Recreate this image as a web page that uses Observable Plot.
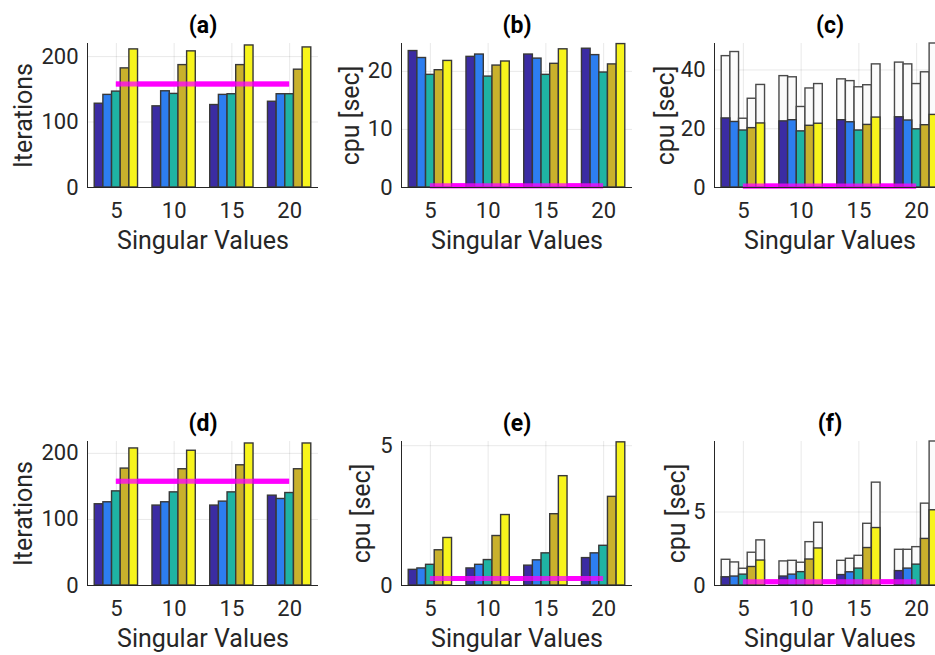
<!DOCTYPE html>
<html>
<head>
<meta charset="utf-8">
<script src="https://cdn.jsdelivr.net/npm/d3@7"></script>
<script src="https://cdn.jsdelivr.net/npm/@observablehq/plot@0.6"></script>
<style>
  html, body { margin: 0; padding: 0; background: #fff; overflow: hidden; }
  #fig { position: relative; width: 935px; height: 655px; overflow: hidden; background: #fff; }
  #fig > div { position: absolute; }
</style>
</head>
<body>
<div id="fig"></div>
<script>
// ---------- data ----------
const groups = [5, 10, 15, 20];
const seriesNames = ["S1", "S2", "S3", "S4", "S5"];
const seriesColors = ["#3b2ca3", "#2d7ef0", "#1fb3a3", "#c9b12c", "#f7f41c"];

// rows = series, columns = groups (5, 10, 15, 20)
const iterA = [
  [128, 124, 126, 131],
  [141.5, 147, 141.5, 142.5],
  [146.5, 143, 142.5, 142.5],
  [182, 187, 187, 180],
  [211, 208, 217, 214]
];
const refA = 158;

const cpuB = [
  [23.5, 22.5, 22.9, 23.9],
  [22.3, 22.9, 22.2, 22.8],
  [19.4, 19.1, 19.4, 19.8],
  [20.2, 21.0, 21.3, 21.2],
  [21.8, 21.7, 23.8, 24.7]
];
const refB = 0.3;

const totalC = [
  [44.7, 37.9, 36.8, 42.5],
  [46.1, 37.5, 36.2, 41.9],
  [23.4, 27.4, 34.1, 35.2],
  [30.2, 33.7, 34.8, 39.2],
  [34.9, 35.2, 41.9, 49.0]
];
const refC = 0.5;

const iterD = [
  [123, 121, 121, 136],
  [126, 126, 127, 131],
  [142.5, 141, 141, 140],
  [177, 176, 182, 176],
  [207.5, 204, 215, 215]
];
const refD = 158;

const cpuE = [
  [0.56, 0.61, 0.71, 0.98],
  [0.61, 0.74, 0.90, 1.15],
  [0.74, 0.91, 1.15, 1.42],
  [1.26, 1.77, 2.55, 3.17],
  [1.70, 2.52, 3.91, 5.12]
];
const refE = 0.25;

const totalF = [
  [1.75, 1.64, 1.68, 2.43],
  [1.57, 1.68, 1.82, 2.43],
  [1.14, 1.55, 2.02, 2.61],
  [2.23, 2.95, 4.20, 5.57],
  [3.07, 4.27, 7.00, 9.8]
];
const refF = 0.25;

const xTickLabels = ["5", "10", "15", "20"];
const xLabel = "Singular Values";

// ---------- drawing ----------
const BAR_W = 0.75;          // width of one bar in x units
const FRAME_W = 231, FRAME_H = 144;
const ML = 87, MR = 10, MT = 43, MB = 70;
const INK = "#262626";

function panel({title, ylabel, values, totals, ref, yDomain, yTicks, ylabelDx}) {
  const rows = [];
  values.forEach((arr, k) => arr.forEach((v, j) => rows.push({
    g: groups[j], k, s: seriesNames[k], v, t: totals ? totals[k][j] : null
  })));
  const x1 = d => d.g + (d.k - 2.5) * BAR_W;
  const x2 = d => d.g + (d.k - 1.5) * BAR_W;
  const refLine = {x1: groups[0], x2: groups[groups.length - 1], stroke: "#ff00ff", strokeWidth: 5};
  return Plot.plot({
    width: ML + FRAME_W + MR,
    height: MT + FRAME_H + MB,
    marginLeft: ML, marginRight: MR, marginTop: MT, marginBottom: MB,
    style: {fontFamily: "Roboto, sans-serif", fontSize: "22px", color: INK, background: "transparent", maxWidth: "none", overflow: "visible"},
    x: {domain: [2.5, 22.5], ticks: groups, tickFormat: d => xTickLabels[groups.indexOf(d)], tickSize: 0, tickPadding: 15, label: null, grid: true},
    y: {domain: yDomain, ticks: yTicks, tickFormat: d => String(d), tickSize: 0, tickPadding: 9, label: null, grid: true},
    color: {domain: seriesNames, range: seriesColors},
    marks: [
      Plot.ruleY([ref], refLine),
      totals ? Plot.rectY(rows, {x1, x2, y1: 0, y2: "t", fill: "#fbfbfb", stroke: "#4a4a4a", strokeWidth: 1.4}) : null,
      Plot.rectY(rows, {x1, x2, y1: 0, y2: "v", fill: "s", stroke: "#383838", strokeWidth: 1.4}),
      Plot.ruleY([ref], {...refLine, strokeOpacity: 0.75}),
      Plot.ruleX([2.5], {stroke: INK, strokeWidth: 1}),
      Plot.ruleY([yDomain[0]], {stroke: INK, strokeWidth: 1}),
      Plot.text([title], {text: d => d, frameAnchor: "top", textAnchor: "middle", lineAnchor: "middle", dy: -18, fontWeight: "bold", fontSize: 23, fill: "#000"}),
      Plot.text([xLabel], {text: d => d, frameAnchor: "bottom", textAnchor: "middle", lineAnchor: "middle", dy: 53, fontSize: 25, fill: INK}),
      Plot.text([ylabel], {text: d => d, frameAnchor: "left", textAnchor: "middle", lineAnchor: "middle", dx: ylabelDx, rotate: -90, fontSize: 25, fill: INK})
    ]
  });
}

const panels = [
  {left: 0,   top: 0,   opts: {title: "(a)", ylabel: "Iterations", values: iterA, ref: refA, yDomain: [0, 220], yTicks: [0, 100, 200], ylabelDx: -64}},
  {left: 314, top: 0,   opts: {title: "(b)", ylabel: "cpu [sec]", values: cpuB, ref: refB, yDomain: [0, 24.8], yTicks: [0, 10, 20], ylabelDx: -51}},
  {left: 627, top: 0,   opts: {title: "(c)", ylabel: "cpu [sec]", values: cpuB, totals: totalC, ref: refC, yDomain: [0, 49], yTicks: [0, 20, 40], ylabelDx: -49}},
  {left: 0,   top: 398, opts: {title: "(d)", ylabel: "Iterations", values: iterD, ref: refD, yDomain: [0, 218], yTicks: [0, 100, 200], ylabelDx: -64}},
  {left: 314, top: 398, opts: {title: "(e)", ylabel: "cpu [sec]", values: cpuE, ref: refE, yDomain: [0, 5.15], yTicks: [0, 5], ylabelDx: -40}},
  {left: 627, top: 398, opts: {title: "(f)", ylabel: "cpu [sec]", values: cpuE, totals: totalF, ref: refF, yDomain: [0, 9.8], yTicks: [0, 5], ylabelDx: -38}}
];

const fig = document.getElementById("fig");
for (const p of panels) {
  const wrap = document.createElement("div");
  wrap.style.left = p.left + "px";
  wrap.style.top = p.top + "px";
  wrap.appendChild(panel(p.opts));
  fig.appendChild(wrap);
}
</script>
</body>
</html>
